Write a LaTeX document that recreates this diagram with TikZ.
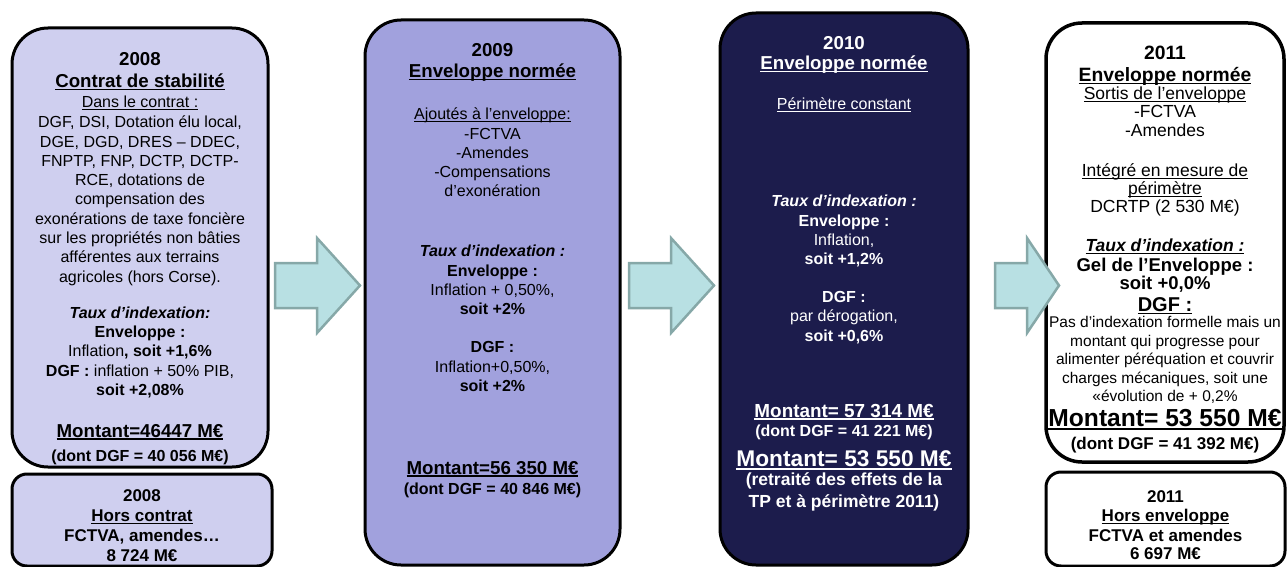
\documentclass[tikz,border=0pt]{standalone}
\usepackage{fontspec}
\setmainfont{Liberation Sans}
\definecolor{fond08}{RGB}{207,207,239}
\definecolor{fond09}{RGB}{161,161,221}
\definecolor{fond10}{RGB}{28,28,76}
\definecolor{flechefond}{RGB}{184,224,227}
\definecolor{flechebord}{RGB}{134,168,168}
% font size with a fixed line pitch, and a thick underline
\newcommand{\fs}[1]{\fontsize{#1}{19.3}\selectfont}
\newcommand{\souligne}[1]{\setbox0=\hbox{#1}\makebox[0pt][l]{\rule[-0.13em]{\wd0}{0.075em}}\box0}

\begin{document}
\begin{tikzpicture}[x=1pt,y=-1pt,
  cadre/.style={draw=black,line width=3pt,rounded corners=36pt,inner sep=0pt},
  petitcadre/.style={cadre,rounded corners=15pt},
  texte/.style={align=center,anchor=north,inner sep=0pt,font=\fs{16}},
  fleche/.style={fill=flechefond,draw=flechebord,line width=2.5pt}]
  \useasboundingbox (0,0) rectangle (1288,567);
  % the four years, with the two boxes of what stays out
  \node[cadre,fill=fond08,minimum width=256pt,minimum height=439pt] (c2008) at (140,247.5) {};
  \node[petitcadre,fill=fond08,minimum width=260pt,minimum height=92pt] (h2008) at (142,520) {};
  \node[cadre,fill=fond09,minimum width=255pt,minimum height=545pt] (c2009) at (492.5,292.5) {};
  \node[cadre,fill=fond10,minimum width=248pt,minimum height=552pt] (c2010) at (844,289) {};
  \node[cadre,line width=3.5pt,fill=white,minimum width=238pt,minimum height=439pt] (c2011) at (1165,242.5) {};
  \node[petitcadre,fill=white,minimum width=239pt,minimum height=94pt] (h2011) at (1165.5,519) {};
  % texts
  \node[texte] (t2008) at (140,52.5) {%
    \bfseries\fs{18.7}2008\\[2.7pt]
    \bfseries\fs{18.7}\souligne{Contrat de stabilité}\\[0.7pt]
    \souligne{Dans le contrat :}\\[0.7pt]
    DGF, DSI, Dotation élu local,\\
    DGE, DGD, DRES – DDEC,\\
    FNPTP, FNP, DCTP, DCTP-\\
    RCE, dotations de\\
    compensation des\\
    exonérations de taxe foncière\\
    sur les propriétés non bâties\\
    afférentes aux terrains\\
    agricoles (hors Corse).\\[16.7pt]
    \bfseries\itshape Taux d’indexation:\\
    \bfseries Enveloppe :\\
    Inflation\textbf{, soit +1,6\%}\\
    \textbf{DGF :} inflation + 50\% PIB,\\
    \bfseries soit +2,08\%\\[22.7pt]
    \bfseries\fs{18.7}\souligne{Montant=46447 M€}\\[4.7pt]
    \bfseries\fs{16}(dont DGF = 40 056 M€)};
  \node[texte,font=\fs{17}\bfseries] (th2008) at (142,489.8) {%
    2008\\[0.7pt]
    \souligne{Hors contrat}\\[0.7pt]
    FCTVA, amendes…\\[0.7pt]
    8 724 M€};
  \node[texte] (t2009) at (492.5,43.5) {%
    \bfseries\fs{18.7}2009\\[1.7pt]
    \bfseries\fs{18.7}\souligne{Enveloppe normée}\\[22.7pt]
    \souligne{Ajoutés à l’enveloppe:}\\
    -FCTVA\\
    -Amendes\\
    -Compensations\\
    d’exonération\\[40.7pt]
    \bfseries\itshape Taux d’indexation :\\
    \bfseries Enveloppe :\\
    Inflation + 0,50\%,\\
    \bfseries soit +2\%\\[18.7pt]
    \bfseries DGF :\\
    Inflation+0,50\%,\\
    \bfseries soit +2\%\\[63.7pt]
    \bfseries\fs{18.7}\souligne{Montant=56 350 M€}\\[0.7pt]
    \bfseries\fs{16}(dont DGF = 40 846 M€)};
  \node[texte,text=white] (t2010) at (844,36.5) {%
    \bfseries\fs{18.7}2010\\[0.7pt]
    \bfseries\fs{18.7}\souligne{Enveloppe normée}\\[20.7pt]
    \souligne{Périmètre constant}\\[77.7pt]
    \bfseries\itshape Taux d’indexation :\\
    \bfseries Enveloppe :\\
    Inflation,\\
    \bfseries soit +1,2\%\\[18.7pt]
    \bfseries DGF :\\
    par dérogation,\\
    \bfseries soit +0,6\%\\[56.7pt]
    \bfseries\fs{18.9}\souligne{Montant= 57 314 M€}\\
    \bfseries\fs{16}(dont DGF = 41 221 M€)\\[10.7pt]
    \bfseries\fs{22.7}\souligne{Montant= 53 550 M€}\\
    \bfseries\fs{17.5}(retraité des effets de la\\[2.7pt]
    \bfseries\fs{17.5}TP et à périmètre 2011)};
  \node[texte,font=\fs{17.5}] (t2011) at (1165,46.1) {%
    \bfseries\fs{19.3}2011\\[2.7pt]
    \bfseries\fs{19.3}\souligne{Enveloppe normée}\\[-1.3pt]
    \souligne{Sortis de l’enveloppe}\\[-1.3pt]
    -FCTVA\\[-0.3pt]
    -Amendes\\[20.7pt]
    \souligne{Intégré en mesure de}\\[-1.3pt]
    \souligne{périmètre}\\[-1.3pt]
    DCRTP (2 530 M€)\\[19.7pt]
    \bfseries\itshape\souligne{Taux d’indexation :}\\[0.7pt]
    \bfseries\fs{18.5}Gel de l’Enveloppe :\\[-1.3pt]
    \bfseries\fs{18.5}soit +0,0\%\\[2.7pt]
    \bfseries\fs{20}\souligne{DGF :}\\[-3.3pt]
    \fs{15.5}Pas d’indexation formelle mais un\\[-0.8pt]
    \fs{15.5}montant qui progresse pour\\[-0.8pt]
    \fs{15.5}alimenter péréquation et couvrir\\[-0.8pt]
    \fs{15.5}charges mécaniques, soit une\\[-0.8pt]
    \fs{15.5}«évolution de + 0,2\%\\[5.7pt]
    \bfseries\fs{24.6}\souligne{Montant= 53 550 M€}\\[3.7pt]
    \bfseries\fs{17}(dont DGF = 41 392 M€)};
  \node[texte,font=\fs{17}\bfseries] (th2011) at (1165.5,490.8) {%
    2011\\[-0.3pt]
    \souligne{Hors enveloppe}\\[0.7pt]
    FCTVA et amendes\\[-1.3pt]
    6 697 M€};
  % block arrows from one year to the next
  \foreach \xs/\xh/\xt in {275/317/360,629/671/714,995/1027/1059}
    \draw[fleche] (\xs,263) -- (\xh,263) -- (\xh,238) -- (\xt,285.5)
      -- (\xh,333) -- (\xh,308) -- (\xs,308) -- cycle;
\end{tikzpicture}
\end{document}
